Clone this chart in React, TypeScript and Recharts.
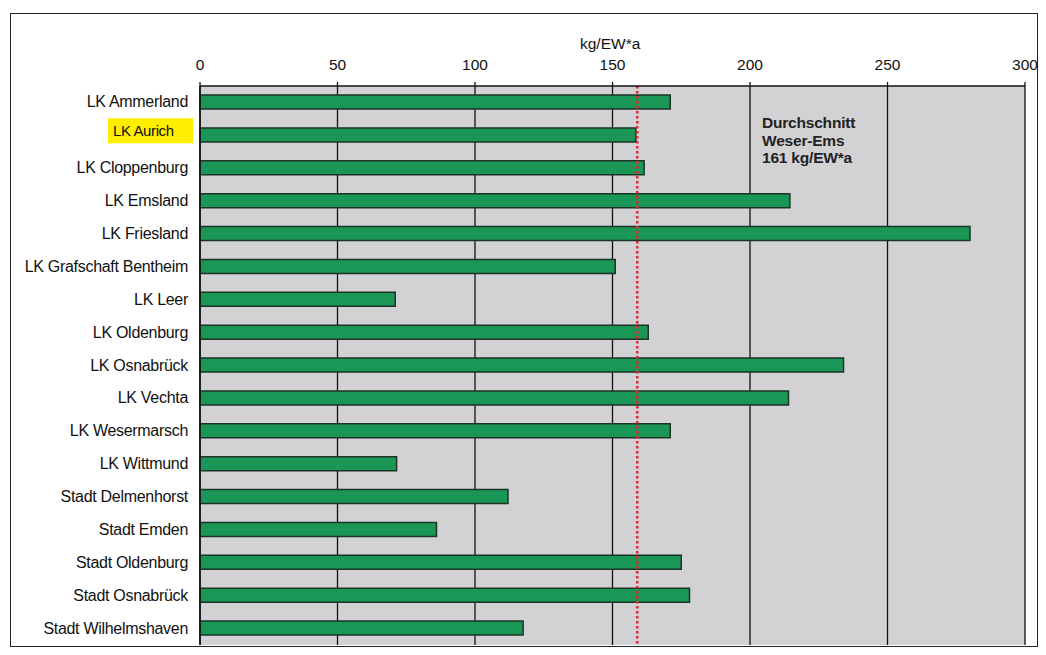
import React from 'react';
import { BarChart, Bar, XAxis, YAxis, CartesianGrid, ReferenceLine } from 'recharts';

const categories = [
  'LK Ammerland', 'LK Aurich', 'LK Cloppenburg', 'LK Emsland', 'LK Friesland',
  'LK Grafschaft Bentheim', 'LK Leer', 'LK Oldenburg', 'LK Osnabrück', 'LK Vechta',
  'LK Wesermarsch', 'LK Wittmund', 'Stadt Delmenhorst', 'Stadt Emden',
  'Stadt Oldenburg', 'Stadt Osnabrück', 'Stadt Wilhelmshaven',
];
const values = [171, 158.5, 161.5, 214.5, 280, 151, 71, 163, 234, 214, 171, 71.5, 112, 86, 175, 178, 117.5];
const xTicks = [0, 50, 100, 150, 200, 250, 300];
const averageValue = 159;
const highlighted = 'LK Aurich';
const annotationLines = ['Durchschnitt', 'Weser-Ems', '161 kg/EW*a'];
const axisTitle = 'kg/EW*a';

const data = categories.map((name, i) => ({ name, value: values[i] }));

const FONT = "Arial, 'Liberation Sans', sans-serif";

const CategoryTick = (props: any) => {
  const { x, y, payload } = props;
  const isHi = payload.value === highlighted;
  if (isHi) {
    return (
      <g>
        <rect x={x - 84} y={y - 17} width={85} height={25} fill="#ffee00" />
        <text x={x - 79} y={y} dy={1} textAnchor="start" fontSize={15} fontFamily={FONT} fill="#111" style={{ letterSpacing: '-0.4px' }}>
          {payload.value}
        </text>
      </g>
    );
  }
  return (
    <g>
      <text x={x - 4} y={y} dy={5} textAnchor="end" fontSize={16} fontFamily={FONT} fill="#111" style={{ letterSpacing: '-0.3px' }}>
        {payload.value}
      </text>
    </g>
  );
};

export default function App() {
  return (
    <div style={{ position: 'relative', width: 1030, height: 640 }}>
      <div style={{ position: 'absolute', left: 2, top: 5, width: 1028, height: 634, border: '1.5px solid #222', boxSizing: 'border-box' }} />
      <div style={{ position: 'absolute', left: 0, top: 0 }}>
        <BarChart
          width={1030}
          height={640}
          data={data}
          layout="vertical"
          margin={{ top: 48, right: 13, bottom: 3, left: 0 }}
        >
          <CartesianGrid horizontal={false} vertical={true} stroke="#111" strokeWidth={1.3} fill="#d2d2d5" fillOpacity={1} />
          <XAxis
            type="number"
            orientation="top"
            domain={[0, 300]}
            ticks={xTicks}
            height={30}
            axisLine={{ stroke: '#111', strokeWidth: 1.5 }}
            tickLine={{ stroke: '#111', strokeWidth: 1.3 }}
            tickSize={4}
            tickMargin={12}
            tick={{ fontSize: 15.5, fontFamily: FONT, fill: '#111' }}
            interval={0}
          />
          <XAxis
            xAxisId="bottom"
            type="number"
            orientation="bottom"
            domain={[0, 300]}
            height={0}
            tick={false}
            tickLine={false}
            axisLine={{ stroke: '#444', strokeWidth: 1.5 }}
          />
          <YAxis
            type="category"
            dataKey="name"
            width={192}
            axisLine={{ stroke: '#111', strokeWidth: 1.5 }}
            tickLine={false}
            tick={<CategoryTick />}
            interval={0}
          />
          <YAxis yAxisId="right" orientation="right" type="category" dataKey="name" width={0} tick={false} tickLine={false} axisLine={{ stroke: '#444', strokeWidth: 1.5 }} />
          <Bar dataKey="value" barSize={14} fill="#1a9656" stroke="#1d3326" strokeWidth={1.5} isAnimationActive={false} />
          <ReferenceLine x={averageValue} stroke="#e0283a" strokeWidth={2.6} strokeDasharray="2.5 2.5" />
        </BarChart>
      </div>
      <div style={{ position: 'absolute', left: 572, top: 27, fontFamily: FONT, fontSize: 15.5, color: '#111' }}>{axisTitle}</div>
      <div style={{ position: 'absolute', left: 754, top: 106, fontFamily: FONT, fontSize: 15.5, fontWeight: 'bold', color: '#222', lineHeight: '17.5px', letterSpacing: '-0.2px' }}>
        {annotationLines.map((l) => (
          <div key={l}>{l}</div>
        ))}
      </div>
    </div>
  );
}
